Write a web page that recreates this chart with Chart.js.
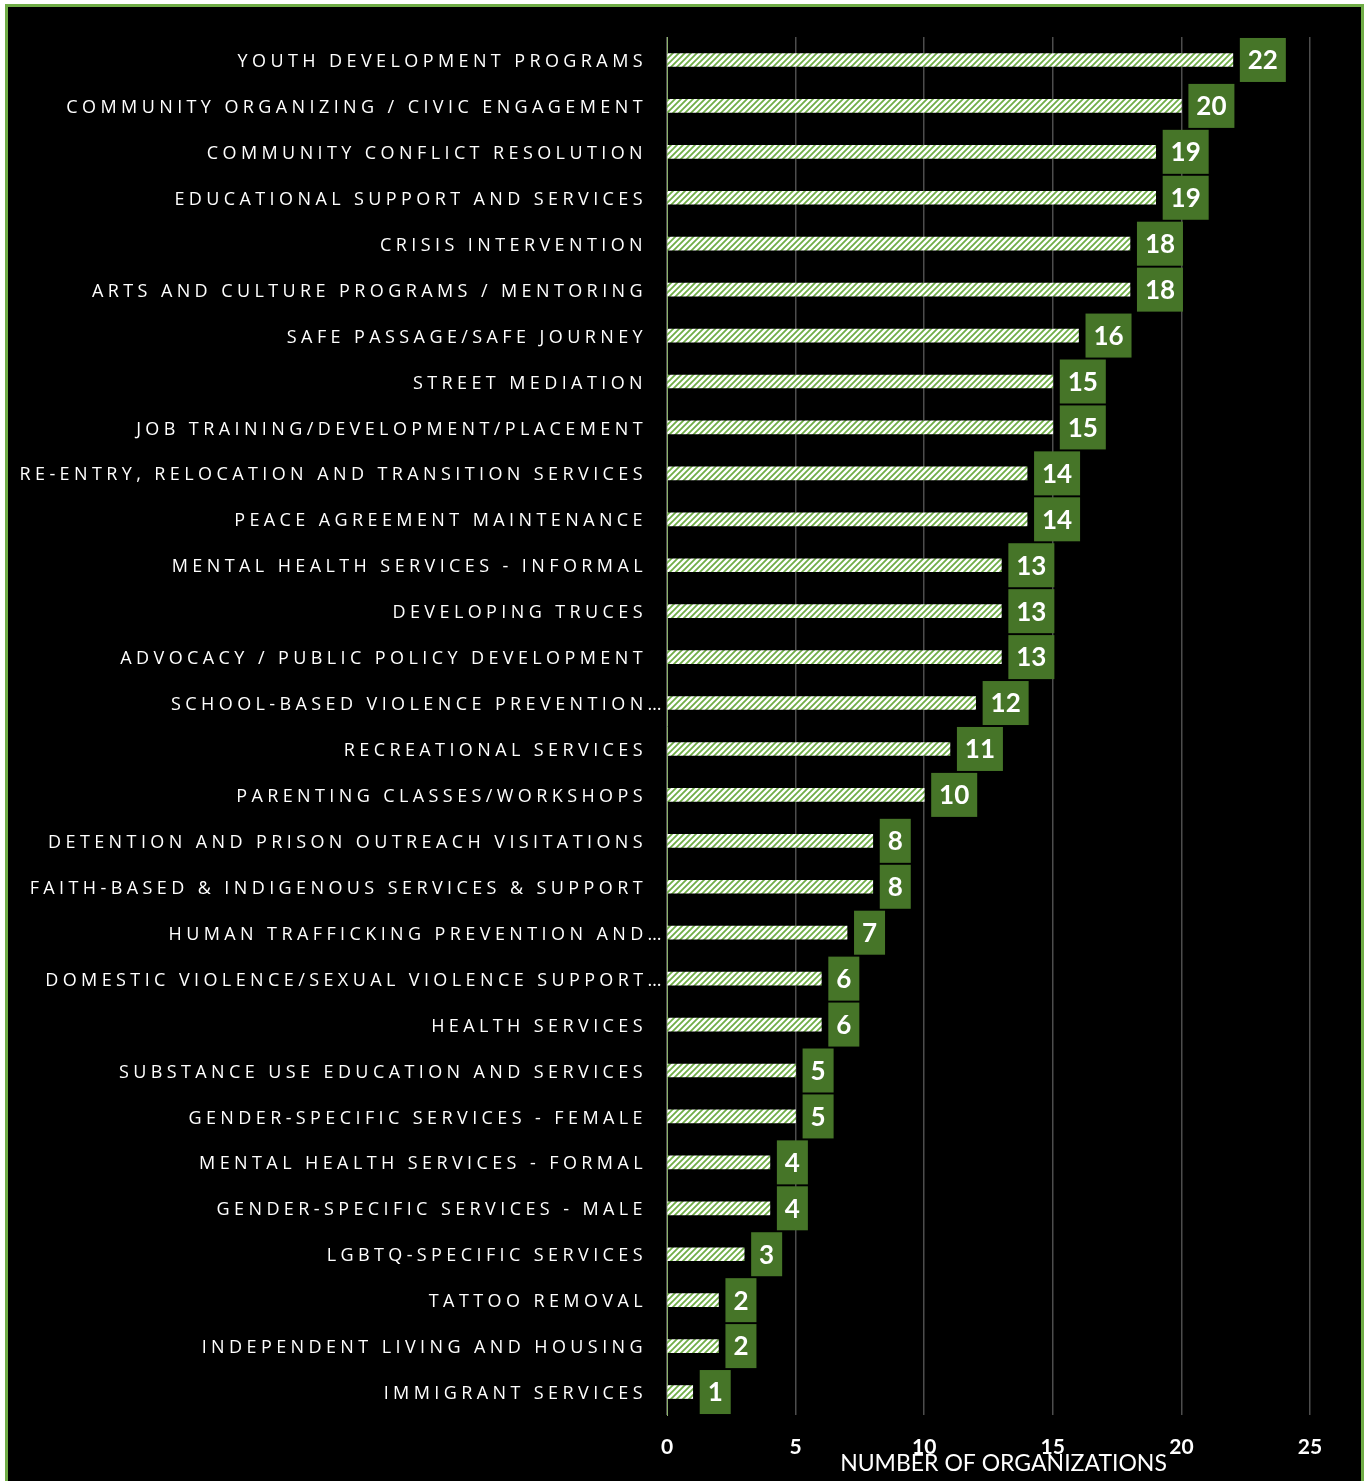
<!DOCTYPE html>
<html>
<head>
<meta charset="utf-8">
<script src="https://cdn.jsdelivr.net/npm/chart.js@4.4.1/dist/chart.umd.min.js"></script>
<style>
  html, body { margin: 0; padding: 0; background: #ffffff; overflow: hidden; }
  #frame {
    position: absolute; left: 5px; top: 4px; width: 1359px; height: 1500px;
    box-sizing: border-box; border: 3px solid #70ad47; background: #000000;
  }
  #wrap { position: absolute; left: 0; top: 0; width: 1366px; height: 1481px; }
</style>
</head>
<body>
<div id="frame"></div>
<div id="wrap"><canvas id="chart" width="1366" height="1481"></canvas></div>
<script>
// Service categories, most common first
const categories = [
  'YOUTH DEVELOPMENT PROGRAMS',
  'COMMUNITY ORGANIZING / CIVIC ENGAGEMENT',
  'COMMUNITY CONFLICT RESOLUTION',
  'EDUCATIONAL SUPPORT AND SERVICES',
  'CRISIS INTERVENTION',
  'ARTS AND CULTURE PROGRAMS / MENTORING',
  'SAFE PASSAGE/SAFE JOURNEY',
  'STREET MEDIATION',
  'JOB TRAINING/DEVELOPMENT/PLACEMENT',
  'RE-ENTRY, RELOCATION AND TRANSITION SERVICES',
  'PEACE AGREEMENT MAINTENANCE',
  'MENTAL HEALTH SERVICES - INFORMAL',
  'DEVELOPING TRUCES',
  'ADVOCACY / PUBLIC POLICY DEVELOPMENT',
  'SCHOOL-BASED VIOLENCE PREVENTION…',
  'RECREATIONAL SERVICES',
  'PARENTING CLASSES/WORKSHOPS',
  'DETENTION AND PRISON OUTREACH VISITATIONS',
  'FAITH-BASED & INDIGENOUS SERVICES & SUPPORT',
  'HUMAN TRAFFICKING PREVENTION AND…',
  'DOMESTIC VIOLENCE/SEXUAL VIOLENCE SUPPORT…',
  'HEALTH SERVICES',
  'SUBSTANCE USE EDUCATION AND SERVICES',
  'GENDER-SPECIFIC SERVICES - FEMALE',
  'MENTAL HEALTH SERVICES - FORMAL',
  'GENDER-SPECIFIC SERVICES - MALE',
  'LGBTQ-SPECIFIC SERVICES',
  'TATTOO REMOVAL',
  'INDEPENDENT LIVING AND HOUSING',
  'IMMIGRANT SERVICES'
];

// Number of organizations offering each service
const organizationCounts = [22, 20, 19, 19, 18, 18, 16, 15, 15, 14, 14, 13, 13, 13, 12, 11, 10, 8, 8, 7, 6, 6, 5, 5, 4, 4, 3, 2, 2, 1];

// Value axis
const axisMin = 0;
const axisMax = 25;
const axisStep = 5;
const axisTitle = 'NUMBER OF ORGANIZATIONS';

const GREEN_LIGHT = '#70ad47';
const GREEN_DARK = '#467528';

// White bar with light-green diagonal hatching
function makeHatch() {
  const size = 6;
  const c = document.createElement('canvas');
  c.width = size; c.height = size;
  const g = c.getContext('2d');
  g.fillStyle = '#ffffff';
  g.fillRect(0, 0, size, size);
  g.strokeStyle = GREEN_LIGHT;
  g.lineWidth = 1.8;
  g.beginPath();
  g.moveTo(-1, size + 1); g.lineTo(size + 1, -1);
  g.moveTo(-1, 1); g.lineTo(1, -1);
  g.moveTo(size - 1, size + 1); g.lineTo(size + 1, size - 1);
  g.stroke();
  return g.createPattern(c, 'repeat');
}

// Green value boxes at the end of each bar
const valueBoxes = {
  id: 'valueBoxes',
  afterDatasetsDraw(chart) {
    const ctx = chart.ctx;
    const meta = chart.getDatasetMeta(0);
    const values = chart.data.datasets[0].data;
    ctx.save();
    ctx.font = 'bold 26px Lato, "Open Sans", sans-serif';
    ctx.textAlign = 'center';
    ctx.textBaseline = 'middle';
    meta.data.forEach((bar, i) => {
      const text = String(values[i]);
      const w = text.length > 1 ? 46 : 31;
      const h = 44;
      const x0 = bar.x + 7;
      ctx.fillStyle = GREEN_DARK;
      ctx.fillRect(x0, bar.y - h / 2, w, h);
      ctx.fillStyle = '#ffffff';
      ctx.fillText(text, x0 + w / 2, bar.y + 1);
    });
    ctx.restore();
  }
};

// Spaced-out capitals for the category labels; truncated names sit a little further right
const spacedCategoryLabels = {
  id: 'spacedCategoryLabels',
  afterLayout(chart) {
    const s = chart.scales.y;
    if (s && !s._spacedLabels) {
      const draw = s.drawLabels.bind(s);
      s.drawLabels = function (area) {
        const ctx = chart.ctx;
        const items = s.getLabelItems(area);
        const moved = [];
        items.forEach(it => {
          const t = it.options && it.options.translation;
          if (!t) return;
          const dx = String(it.label).endsWith('…') ? 19 : 0;
          t[0] += dx; t[1] += 2;
          moved.push([t, dx]);
        });
        ctx.save();
        ctx.letterSpacing = '4.4px';
        draw(area);
        ctx.restore();
        moved.forEach(([t, dx]) => { t[0] -= dx; t[1] -= 2; });
      };
      s._spacedLabels = true;
    }
    const x = chart.scales.x;
    if (x && !x._shiftedTitle) {
      const drawTitle = x.drawTitle.bind(x);
      x.drawTitle = function () {
        chart.ctx.save();
        chart.ctx.translate(15, 0);
        drawTitle();
        chart.ctx.restore();
      };
      x._shiftedTitle = true;
    }
  }
};

const ctx = document.getElementById('chart').getContext('2d');
new Chart(ctx, {
  type: 'bar',
  data: {
    labels: categories,
    datasets: [{
      data: organizationCounts,
      backgroundColor: makeHatch(),
      borderWidth: 0,
      barThickness: 13
    }]
  },
  options: {
    indexAxis: 'y',
    responsive: false,
    animation: false,
    events: [],
    layout: { padding: { top: 37, right: 56, bottom: 0, left: 0 } },
    plugins: { legend: { display: false }, tooltip: { enabled: false } },
    scales: {
      x: {
        min: axisMin,
        max: axisMax,
        ticks: {
          stepSize: axisStep,
          color: '#ffffff',
          font: { family: 'Lato, "Open Sans", sans-serif', size: 21, weight: 'bold' },
          padding: 20,
          maxRotation: 0
        },
        grid: { color: '#4d4d4d', lineWidth: 1.5, drawTicks: false },
        border: { display: false },
        title: {
          display: true,
          text: axisTitle,
          color: '#ffffff',
          font: { family: 'Lato, "Open Sans", sans-serif', size: 23 },
          padding: { top: 0, bottom: 4 }
        },
        afterFit(scale) { scale.height = 66; }
      },
      y: {
        ticks: {
          color: '#ffffff',
          font: { family: '"Open Sans", sans-serif', size: 18 },
          padding: 20,
          autoSkip: false
        },
        grid: { display: false, drawTicks: false },
        border: { display: true, color: '#8cb36b', width: 1 },
        afterFit(scale) { scale.width = 667; }
      }
    }
  },
  plugins: [spacedCategoryLabels, valueBoxes]
});
</script>
</body>
</html>
